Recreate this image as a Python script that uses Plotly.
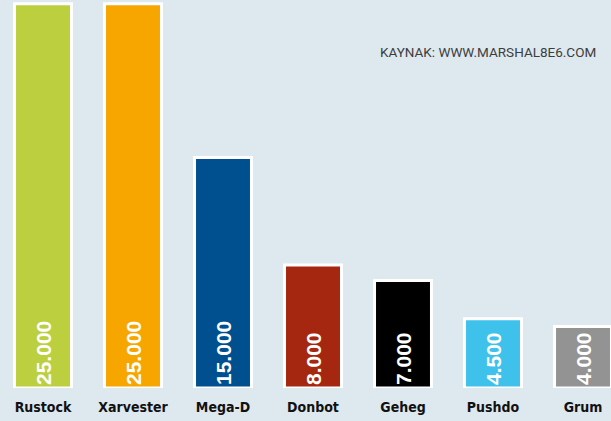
import plotly.graph_objects as go

# Botnet spam volumes
botnets = ["Rustock", "Xarvester", "Mega-D", "Donbot", "Geheg", "Pushdo", "Grum"]
volumes = [25000, 25000, 15000, 8000, 7000, 4500, 4000]
value_labels = ["25.000", "25.000", "15.000", "8.000", "7.000", "4.500", "4.000"]
bar_colors = ["#bccf3f", "#f7a600", "#00508f", "#a6270f", "#000000", "#3ec2ec", "#939393"]
source_note = "KAYNAK: WWW.MARSHAL8E6.COM"

BG = "#dee8ef"

fig = go.Figure(
    go.Bar(
        x=botnets,
        y=volumes,
        width=0.633,
        marker=dict(color=bar_colors, line=dict(color="white", width=3)),
        text=value_labels,
        textposition="inside",
        insidetextanchor="start",
        textangle=-90,
        insidetextfont=dict(family="Liberation Sans", size=21, color="white", weight="bold"),
        hoverinfo="skip",
    )
)

fig.add_annotation(
    text=source_note,
    xref="paper", yref="paper",
    x=598 / 611, y=(388 - 52) / 388,
    xanchor="right", yanchor="middle",
    showarrow=False,
    font=dict(family="Roboto", size=13.5, color="#3d3d3d"),
)

fig.update_layout(
    width=611,
    height=421,
    margin=dict(l=0, r=0, t=0, b=33),
    paper_bgcolor=BG,
    plot_bgcolor=BG,
    showlegend=False,
    uniformtext=dict(minsize=21, mode="show"),
    xaxis=dict(
        range=[-43 / 90, 568 / 90],
        showgrid=False,
        zeroline=False,
        showline=False,
        ticks="",
        ticklabelstandoff=9,
        tickfont=dict(family="DejaVu Sans Condensed, Roboto, sans-serif", size=14,
                      color="#111111", weight="bold"),
    ),
    yaxis=dict(
        range=[0, 25250],
        visible=False,
        showgrid=False,
        zeroline=False,
    ),
)

fig.write_html("out.html")
